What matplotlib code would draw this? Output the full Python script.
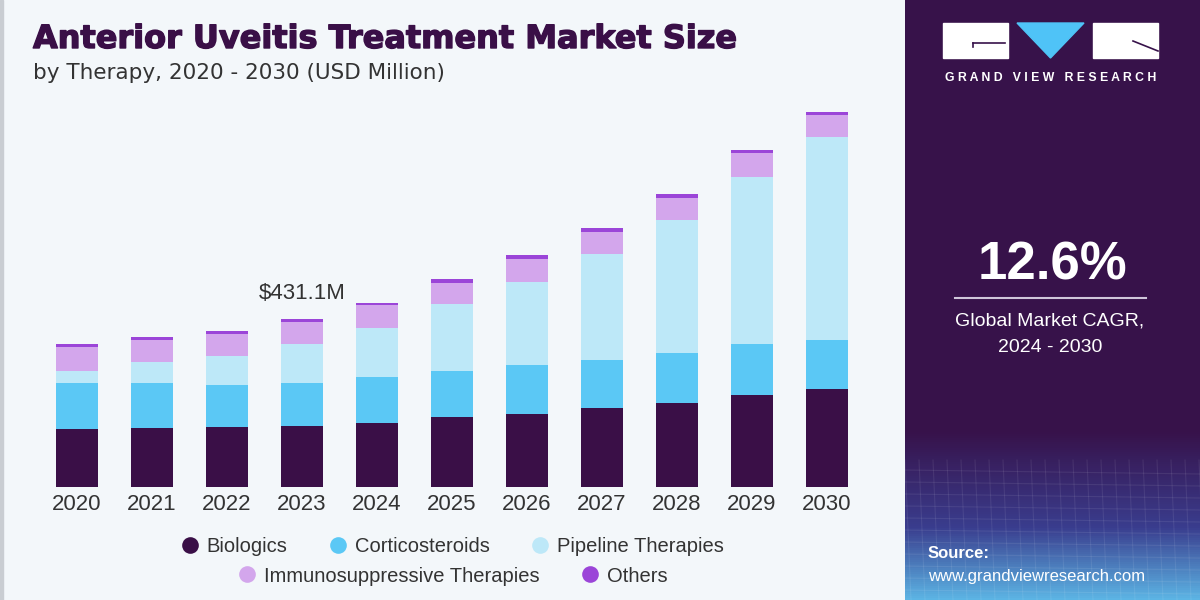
import numpy as np
import matplotlib.pyplot as plt
import matplotlib.patheffects as pe
from matplotlib.lines import Line2D
from matplotlib.patches import Rectangle, Polygon

plt.rcParams['font.family'] = ['Liberation Sans', 'DejaVu Sans']

# datos (USD Million)
years = ['2020', '2021', '2022', '2023', '2024', '2025', '2026', '2027', '2028', '2029', '2030']
biologics = [147.6, 151.7, 153.5, 156.8, 164.5, 178.4, 186.9, 201.6, 216.0, 235.8, 250.4]
corticosteroids = [118.3, 115.7, 108.8, 110.6, 116.7, 119.8, 125.2, 124.2, 128.5, 131.1, 126.7]
pipeline = [32.4, 54.0, 73.8, 100.3, 127.5, 170.7, 213.4, 271.7, 341.2, 428.6, 522.7]
immuno = [60.2, 55.8, 55.8, 56.6, 58.4, 55.5, 60.7, 56.6, 57.3, 61.7, 55.8]
others = [7.7, 7.7, 7.7, 6.9, 5.9, 8.7, 9.3, 11.8, 8.7, 8.5, 6.9]

series = [biologics, corticosteroids, pipeline, immuno, others]
labels = ['Biologics', 'Corticosteroids', 'Pipeline Therapies',
          'Immunosuppressive Therapies', 'Others']
colors = ['#3A0F47', '#5BC8F5', '#BDE8F8', '#D3A6EC', '#9B45D8']

highlight_year = 3  # 2023
highlight_text = '$431.1M'

fig = plt.figure(figsize=(12, 6), dpi=100)
fig.patch.set_facecolor('#F3F7FA')

# borde gris a la izquierda
fig.patches.append(Rectangle((0, 0), 3 / 1200, 1, transform=fig.transFigure,
                             color='#C9CDD2', zorder=0))

# ---- gráfico de barras ----
ax = fig.add_axes([29.75 / 1200, 113.3 / 600, 844.5 / 1200, 386.7 / 600])
ax.set_facecolor('none')
x = np.arange(len(years))
bottom = np.zeros(len(years))
for vals, col in zip(series, colors):
    ax.bar(x, vals, width=0.573, bottom=bottom, color=col, linewidth=0)
    bottom += np.array(vals)

ax.set_xlim(-0.63, 10.63)
ax.set_ylim(0, 994)
for s in ax.spines.values():
    s.set_visible(False)
ax.set_yticks([])
ax.set_xticks(x)
ax.set_xticklabels(years, fontsize=16, color='#333333')
ax.tick_params(axis='x', length=0, pad=5)

ax.annotate(highlight_text, (x[highlight_year], bottom[highlight_year]),
            xytext=(0, 18), textcoords='offset points', ha='center', va='center',
            fontsize=16, color='#333333')

# títulos
fig.text(33 / 1200, 1 - 24 / 600, 'Anterior Uveitis Treatment Market Size',
         fontsize=23, fontweight='bold', color='#3A0F47', va='top', ha='left',
         family='DejaVu Sans',
         path_effects=[pe.withStroke(linewidth=1.0, foreground='#3A0F47')])
fig.text(33 / 1200, 1 - 63 / 600, 'by Therapy, 2020 - 2030 (USD Million)',
         fontsize=15.5, color='#333333', va='top', ha='left', family='DejaVu Sans')

# leyenda en dos filas
h = [Line2D([], [], marker='o', linestyle='', markersize=12,
            markerfacecolor=c, markeredgecolor='none') for c in colors]
leg1 = fig.legend(h[:3], labels[:3], loc='center', bbox_to_anchor=(452 / 1200, 1 - 547 / 600),
                  ncol=3, frameon=False, fontsize=14.5, handletextpad=0.35, columnspacing=2.0,
                  handlelength=1.0)
leg2 = fig.legend(h[3:], labels[3:], loc='center', bbox_to_anchor=(452 / 1200, 1 - 576 / 600),
                  ncol=2, frameon=False, fontsize=14.5, handletextpad=0.35, columnspacing=2.0,
                  handlelength=1.0)
for leg in (leg1, leg2):
    for t in leg.get_texts():
        t.set_color('#333333')

# ---- panel derecho ----
pax = fig.add_axes([905 / 1200, 0, 295 / 1200, 1])
pax.set_xlim(905, 1200)
pax.set_ylim(600, 0)
pax.axis('off')
ny = 300
t = np.linspace(0, 1, ny)
top = np.array([0x37, 0x12, 0x4A]) / 255
mid = np.array([0x3A, 0x3D, 0x8E]) / 255
bot = np.array([0x5C, 0xB4, 0xE4]) / 255
grad = np.zeros((ny, 2, 3))
for i, tt in enumerate(t):
    if tt < 0.72:
        c = top
    elif tt < 0.88:
        f = (tt - 0.72) / 0.16
        c = top * (1 - f) + mid * f
    else:
        f = (tt - 0.88) / 0.12
        c = mid * (1 - f) + bot * f
    grad[i, :, :] = c
pax.imshow(grad, extent=[905, 1200, 600, 0], aspect='auto', zorder=0)

# cuadrícula tenue en la parte baja
for yy in np.arange(470, 600, 12):
    pax.plot([905, 1200], [yy, yy + 4], color='white', alpha=0.08, lw=0.8)
for xx in np.arange(905, 1200, 14):
    pax.plot([xx, xx + 6], [460, 600], color='white', alpha=0.08, lw=0.8)

# logo
pax.add_patch(Rectangle((943, 23), 65, 35, color='white', zorder=2))
pax.add_patch(Rectangle((1093, 23), 65, 35, color='white', zorder=2))
pax.add_patch(Polygon([[1017, 23], [1084, 23], [1050.5, 58]], color='#4FC3F7', zorder=2))
pax.plot([973, 1005], [43, 43], color='#37124A', lw=1.2, zorder=3)
pax.plot([973, 973], [43, 47], color='#37124A', lw=1.2, zorder=3)
pax.plot([1133, 1158], [41, 51], color='#37124A', lw=1.2, zorder=3)
pax.text(1050.5, 78, 'G R A N D   V I E W   R E S E A R C H', color='white',
         fontsize=8.8, fontweight='bold', ha='center', va='center', zorder=3)

pax.text(1052, 265, '12.6%', color='white', fontsize=38, fontweight='bold',
         ha='center', va='center')
pax.plot([955, 1146], [298, 298], color='#CFC6DA', lw=1.5)
pax.text(1050, 321, 'Global Market CAGR,', color='white', fontsize=14,
         ha='center', va='center')
pax.text(1050, 347, '2024 - 2030', color='white', fontsize=14,
         ha='center', va='center')

pax.text(928, 553, 'Source:', color='white', fontsize=12, fontweight='bold',
         ha='left', va='center')
pax.text(928, 577, 'www.grandviewresearch.com', color='white', fontsize=12,
         ha='left', va='center')

fig.savefig('out.png', dpi=100, facecolor=fig.get_facecolor())
